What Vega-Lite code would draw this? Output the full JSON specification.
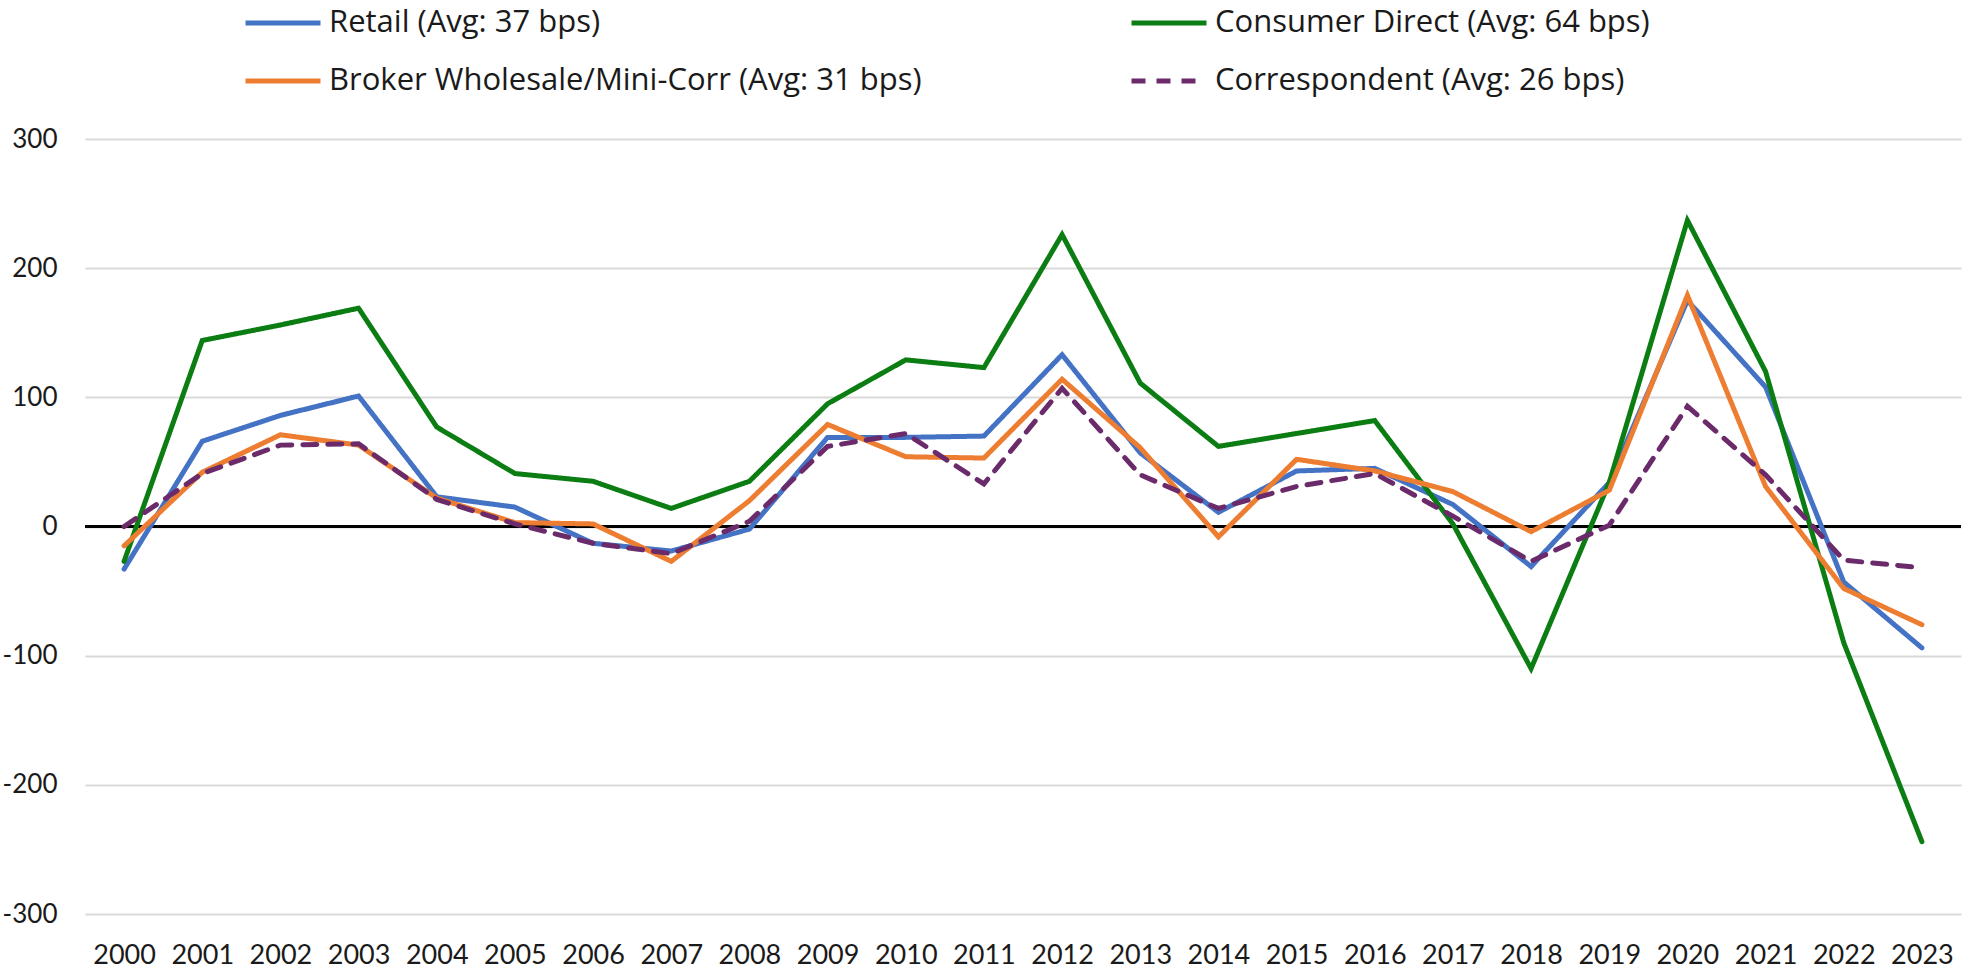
{
  "$schema": "https://vega.github.io/schema/vega-lite/v6.json",
  "width": 1876,
  "height": 775,
  "autosize": {"type": "none"},
  "padding": {"left": 85, "top": 139, "right": 3, "bottom": 54},
  "background": "white",
  "config": {
    "view": {"stroke": null},
    "font": "Lato"
  },
  "data": {
    "values": [
      {"year": "2000", "series": "Retail (Avg: 37 bps)", "bps": -33},
      {"year": "2001", "series": "Retail (Avg: 37 bps)", "bps": 66},
      {"year": "2002", "series": "Retail (Avg: 37 bps)", "bps": 86},
      {"year": "2003", "series": "Retail (Avg: 37 bps)", "bps": 101},
      {"year": "2004", "series": "Retail (Avg: 37 bps)", "bps": 23},
      {"year": "2005", "series": "Retail (Avg: 37 bps)", "bps": 15},
      {"year": "2006", "series": "Retail (Avg: 37 bps)", "bps": -13},
      {"year": "2007", "series": "Retail (Avg: 37 bps)", "bps": -19},
      {"year": "2008", "series": "Retail (Avg: 37 bps)", "bps": -2},
      {"year": "2009", "series": "Retail (Avg: 37 bps)", "bps": 69},
      {"year": "2010", "series": "Retail (Avg: 37 bps)", "bps": 69},
      {"year": "2011", "series": "Retail (Avg: 37 bps)", "bps": 70},
      {"year": "2012", "series": "Retail (Avg: 37 bps)", "bps": 133},
      {"year": "2013", "series": "Retail (Avg: 37 bps)", "bps": 57},
      {"year": "2014", "series": "Retail (Avg: 37 bps)", "bps": 11},
      {"year": "2015", "series": "Retail (Avg: 37 bps)", "bps": 43},
      {"year": "2016", "series": "Retail (Avg: 37 bps)", "bps": 45},
      {"year": "2017", "series": "Retail (Avg: 37 bps)", "bps": 17},
      {"year": "2018", "series": "Retail (Avg: 37 bps)", "bps": -31},
      {"year": "2019", "series": "Retail (Avg: 37 bps)", "bps": 34},
      {"year": "2020", "series": "Retail (Avg: 37 bps)", "bps": 175},
      {"year": "2021", "series": "Retail (Avg: 37 bps)", "bps": 108},
      {"year": "2022", "series": "Retail (Avg: 37 bps)", "bps": -43},
      {"year": "2023", "series": "Retail (Avg: 37 bps)", "bps": -94},
      {"year": "2000", "series": "Consumer Direct (Avg: 64 bps)", "bps": -27},
      {"year": "2001", "series": "Consumer Direct (Avg: 64 bps)", "bps": 144},
      {"year": "2002", "series": "Consumer Direct (Avg: 64 bps)", "bps": 156},
      {"year": "2003", "series": "Consumer Direct (Avg: 64 bps)", "bps": 169},
      {"year": "2004", "series": "Consumer Direct (Avg: 64 bps)", "bps": 77},
      {"year": "2005", "series": "Consumer Direct (Avg: 64 bps)", "bps": 41},
      {"year": "2006", "series": "Consumer Direct (Avg: 64 bps)", "bps": 35},
      {"year": "2007", "series": "Consumer Direct (Avg: 64 bps)", "bps": 14},
      {"year": "2008", "series": "Consumer Direct (Avg: 64 bps)", "bps": 35},
      {"year": "2009", "series": "Consumer Direct (Avg: 64 bps)", "bps": 95},
      {"year": "2010", "series": "Consumer Direct (Avg: 64 bps)", "bps": 129},
      {"year": "2011", "series": "Consumer Direct (Avg: 64 bps)", "bps": 123},
      {"year": "2012", "series": "Consumer Direct (Avg: 64 bps)", "bps": 226},
      {"year": "2013", "series": "Consumer Direct (Avg: 64 bps)", "bps": 111},
      {"year": "2014", "series": "Consumer Direct (Avg: 64 bps)", "bps": 62},
      {"year": "2015", "series": "Consumer Direct (Avg: 64 bps)", "bps": 72},
      {"year": "2016", "series": "Consumer Direct (Avg: 64 bps)", "bps": 82},
      {"year": "2017", "series": "Consumer Direct (Avg: 64 bps)", "bps": 2},
      {"year": "2018", "series": "Consumer Direct (Avg: 64 bps)", "bps": -110},
      {"year": "2019", "series": "Consumer Direct (Avg: 64 bps)", "bps": 34},
      {"year": "2020", "series": "Consumer Direct (Avg: 64 bps)", "bps": 237},
      {"year": "2021", "series": "Consumer Direct (Avg: 64 bps)", "bps": 120},
      {"year": "2022", "series": "Consumer Direct (Avg: 64 bps)", "bps": -90},
      {"year": "2023", "series": "Consumer Direct (Avg: 64 bps)", "bps": -244},
      {"year": "2000", "series": "Broker Wholesale/Mini-Corr (Avg: 31 bps)", "bps": -15},
      {"year": "2001", "series": "Broker Wholesale/Mini-Corr (Avg: 31 bps)", "bps": 42},
      {"year": "2002", "series": "Broker Wholesale/Mini-Corr (Avg: 31 bps)", "bps": 71},
      {"year": "2003", "series": "Broker Wholesale/Mini-Corr (Avg: 31 bps)", "bps": 63},
      {"year": "2004", "series": "Broker Wholesale/Mini-Corr (Avg: 31 bps)", "bps": 22},
      {"year": "2005", "series": "Broker Wholesale/Mini-Corr (Avg: 31 bps)", "bps": 3},
      {"year": "2006", "series": "Broker Wholesale/Mini-Corr (Avg: 31 bps)", "bps": 2},
      {"year": "2007", "series": "Broker Wholesale/Mini-Corr (Avg: 31 bps)", "bps": -27},
      {"year": "2008", "series": "Broker Wholesale/Mini-Corr (Avg: 31 bps)", "bps": 20},
      {"year": "2009", "series": "Broker Wholesale/Mini-Corr (Avg: 31 bps)", "bps": 79},
      {"year": "2010", "series": "Broker Wholesale/Mini-Corr (Avg: 31 bps)", "bps": 54},
      {"year": "2011", "series": "Broker Wholesale/Mini-Corr (Avg: 31 bps)", "bps": 53},
      {"year": "2012", "series": "Broker Wholesale/Mini-Corr (Avg: 31 bps)", "bps": 114},
      {"year": "2013", "series": "Broker Wholesale/Mini-Corr (Avg: 31 bps)", "bps": 61},
      {"year": "2014", "series": "Broker Wholesale/Mini-Corr (Avg: 31 bps)", "bps": -8},
      {"year": "2015", "series": "Broker Wholesale/Mini-Corr (Avg: 31 bps)", "bps": 52},
      {"year": "2016", "series": "Broker Wholesale/Mini-Corr (Avg: 31 bps)", "bps": 43},
      {"year": "2017", "series": "Broker Wholesale/Mini-Corr (Avg: 31 bps)", "bps": 27},
      {"year": "2018", "series": "Broker Wholesale/Mini-Corr (Avg: 31 bps)", "bps": -4},
      {"year": "2019", "series": "Broker Wholesale/Mini-Corr (Avg: 31 bps)", "bps": 28},
      {"year": "2020", "series": "Broker Wholesale/Mini-Corr (Avg: 31 bps)", "bps": 179},
      {"year": "2021", "series": "Broker Wholesale/Mini-Corr (Avg: 31 bps)", "bps": 31},
      {"year": "2022", "series": "Broker Wholesale/Mini-Corr (Avg: 31 bps)", "bps": -48},
      {"year": "2023", "series": "Broker Wholesale/Mini-Corr (Avg: 31 bps)", "bps": -76},
      {"year": "2000", "series": "Correspondent (Avg: 26 bps)", "bps": 0},
      {"year": "2001", "series": "Correspondent (Avg: 26 bps)", "bps": 41},
      {"year": "2002", "series": "Correspondent (Avg: 26 bps)", "bps": 63},
      {"year": "2003", "series": "Correspondent (Avg: 26 bps)", "bps": 64},
      {"year": "2004", "series": "Correspondent (Avg: 26 bps)", "bps": 21},
      {"year": "2005", "series": "Correspondent (Avg: 26 bps)", "bps": 2},
      {"year": "2006", "series": "Correspondent (Avg: 26 bps)", "bps": -13},
      {"year": "2007", "series": "Correspondent (Avg: 26 bps)", "bps": -21},
      {"year": "2008", "series": "Correspondent (Avg: 26 bps)", "bps": 4},
      {"year": "2009", "series": "Correspondent (Avg: 26 bps)", "bps": 62},
      {"year": "2010", "series": "Correspondent (Avg: 26 bps)", "bps": 72},
      {"year": "2011", "series": "Correspondent (Avg: 26 bps)", "bps": 33},
      {"year": "2012", "series": "Correspondent (Avg: 26 bps)", "bps": 107},
      {"year": "2013", "series": "Correspondent (Avg: 26 bps)", "bps": 40},
      {"year": "2014", "series": "Correspondent (Avg: 26 bps)", "bps": 14},
      {"year": "2015", "series": "Correspondent (Avg: 26 bps)", "bps": 31},
      {"year": "2016", "series": "Correspondent (Avg: 26 bps)", "bps": 41},
      {"year": "2017", "series": "Correspondent (Avg: 26 bps)", "bps": 8},
      {"year": "2018", "series": "Correspondent (Avg: 26 bps)", "bps": -27},
      {"year": "2019", "series": "Correspondent (Avg: 26 bps)", "bps": 1},
      {"year": "2020", "series": "Correspondent (Avg: 26 bps)", "bps": 93},
      {"year": "2021", "series": "Correspondent (Avg: 26 bps)", "bps": 40},
      {"year": "2022", "series": "Correspondent (Avg: 26 bps)", "bps": -26},
      {"year": "2023", "series": "Correspondent (Avg: 26 bps)", "bps": -32}
    ]
  },
  "layer": [
    {
      "mark": {"type": "rule", "color": "#000000", "strokeWidth": 3},
      "encoding": {"y": {"datum": 0, "type": "quantitative", "scale": {"domain": [-300, 300], "nice": false}}}
    },
    {
      "mark": {"type": "line", "strokeWidth": 5, "strokeCap": "round", "strokeJoin": "miter"},
      "encoding": {
        "x": {
          "field": "year",
          "type": "ordinal",
          "title": null,
          "axis": {
            "labelAngle": 0,
            "ticks": false,
            "domain": false,
            "grid": false,
            "labelFont": "Lato",
            "labelFontSize": 27,
            "labelColor": "#1a1a1a",
            "labelPadding": 28
          }
        },
        "y": {
          "field": "bps",
          "type": "quantitative",
          "title": null,
          "scale": {"domain": [-300, 300], "nice": false},
          "axis": {
            "values": [-300, -200, -100, 0, 100, 200, 300],
            "labelExpr": "'' + datum.value",
            "ticks": false,
            "domain": false,
            "grid": true,
            "gridColor": "#d9d9d9",
            "gridWidth": 2,
            "labelFont": "Lato",
            "labelFontSize": 26,
            "labelColor": "#1a1a1a",
            "labelPadding": 28
          }
        },
        "color": {
          "field": "series",
          "type": "nominal",
          "scale": {
            "domain": ["Retail (Avg: 37 bps)", "Consumer Direct (Avg: 64 bps)", "Broker Wholesale/Mini-Corr (Avg: 31 bps)", "Correspondent (Avg: 26 bps)"],
            "range": ["#4472c4", "#0b7d12", "#ed7d31", "#6b2b6b"]
          },
          "legend": {
            "title": null,
            "orient": "none",
            "direction": "horizontal",
            "legendX": 158,
            "legendY": -141,
            "columns": 2,
            "columnPadding": 207,
            "rowPadding": 8,
            "clipHeight": 50,
            "symbolType": "stroke",
            "symbolSize": 5625,
            "symbolStrokeWidth": 5,
            "labelFont": "Open Sans",
            "labelFontSize": 31,
            "labelColor": "#1a1a1a",
            "labelOffset": 6,
            "labelLimit": 1000
          }
        },
        "strokeDash": {
          "field": "series",
          "type": "nominal",
          "scale": {
            "domain": ["Retail (Avg: 37 bps)", "Consumer Direct (Avg: 64 bps)", "Broker Wholesale/Mini-Corr (Avg: 31 bps)", "Correspondent (Avg: 26 bps)"],
            "range": [[1, 0], [1, 0], [1, 0], [14, 11]]
          },
          "legend": {
            "title": null,
            "orient": "none",
            "direction": "horizontal",
            "legendX": 158,
            "legendY": -141,
            "columns": 2,
            "columnPadding": 207,
            "rowPadding": 8,
            "clipHeight": 50,
            "symbolType": "stroke",
            "symbolSize": 5625,
            "symbolStrokeWidth": 5,
            "labelFont": "Open Sans",
            "labelFontSize": 31,
            "labelColor": "#1a1a1a",
            "labelOffset": 6,
            "labelLimit": 1000
          }
        }
      }
    }
  ]
}
